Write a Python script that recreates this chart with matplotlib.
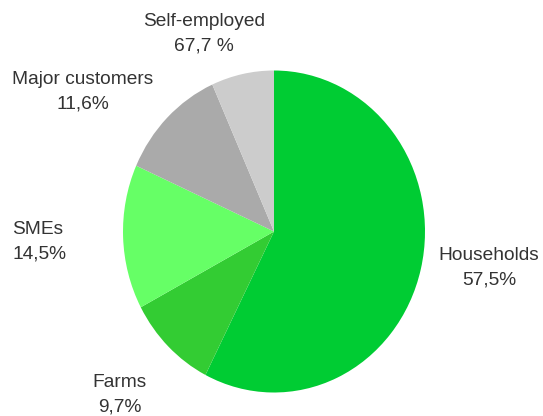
import matplotlib
matplotlib.use("Agg")
import matplotlib.pyplot as plt

categories = ["Households", "Farms", "SMEs", "Major customers", "Self-employed"]
values = [57.5, 9.7, 14.5, 11.6, 6.7]
value_labels = ["57,5%", "9,7%", "14,5%", "11,6%", "67,7 %"]
colors = ["#00cc33", "#33cc33", "#66ff66", "#aaaaaa", "#cccccc"]

W, H = 543, 416
fig = plt.figure(figsize=(W / 100, H / 100), dpi=100)
ax = fig.add_axes([0, 0, 1, 1])

# pie centre / radii in pixels (slightly elliptical in the reference)
cx, cy, rx, ry = 274, 231.5, 151, 161
ax.pie(values, colors=colors, startangle=90, counterclock=False,
       center=(0, 0), radius=1, frame=True,
       wedgeprops=dict(linewidth=0))
ax.set_aspect("auto")
ax.set_xlim(-cx / rx, (W - cx) / rx)
ax.set_ylim(-(H - cy) / ry, cy / ry)
ax.axis("off")

# label positions (pixels from top-left)
label_pos = {
    "Households": (489, 268, "center"),
    "Farms": (120, 395, "center"),
    "SMEs": (12, 242, "left"),
    "Major customers": (83, 92, "center"),
    "Self-employed": (204, 34, "center"),
}
font = dict(family=["Liberation Sans", "DejaVu Sans"], fontsize=13.8, color="#333333")
for cat, vl in zip(categories, value_labels):
    x, y, ha = label_pos[cat]
    fig.text(x / W, 1 - y / H, f"{cat}\n{vl}", ha=ha, va="center",
             linespacing=1.6, **font)

fig.savefig("out.png", dpi=100)
